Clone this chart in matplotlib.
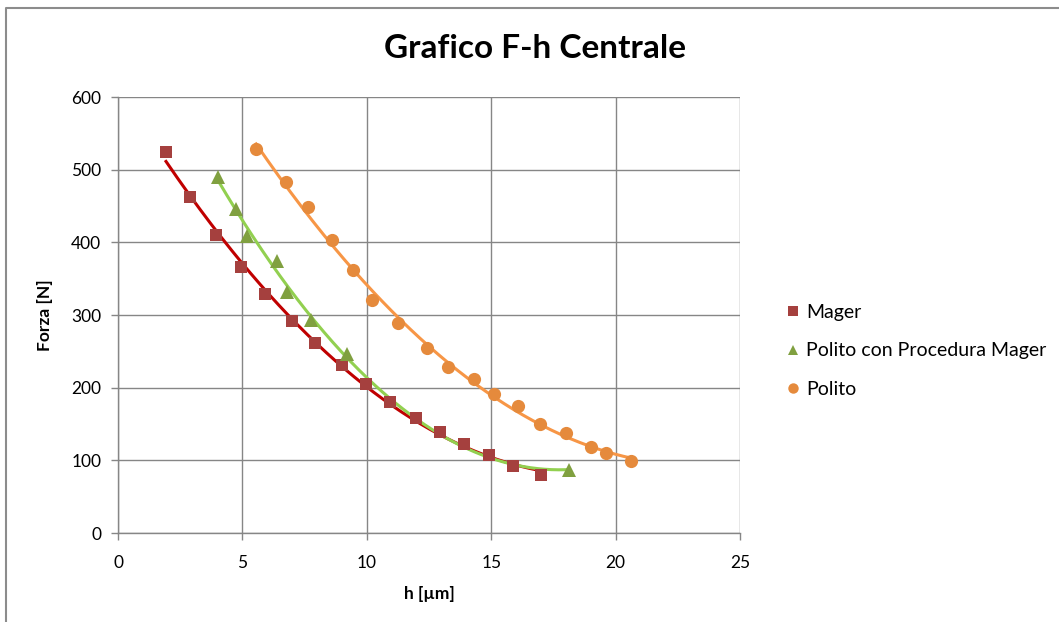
import numpy as np
import matplotlib
matplotlib.use("Agg")
import matplotlib.pyplot as plt
from matplotlib.lines import Line2D

plt.rcParams['font.family'] = ['Lato', 'DejaVu Sans']

# Data
mager_h = [1.93, 2.89, 3.94, 4.94, 5.91, 6.99, 7.92, 9.0, 9.97, 10.93, 11.98, 12.94, 13.9, 14.91, 15.88, 17.0]
mager_F = [525, 462, 410, 366, 329, 292, 261, 231, 205, 180, 158, 139, 122, 107, 92, 80]

pcm_h = [4.02, 4.74, 5.18, 6.39, 6.79, 7.76, 9.2, 18.13]
pcm_F = [490, 446, 409, 374, 332, 293, 246, 87]

polito_h = [5.55, 6.75, 7.64, 8.6, 9.45, 10.2, 11.25, 12.42, 13.26, 14.3, 15.1, 16.08, 16.96, 18.0, 19.0, 19.6, 20.6]
polito_F = [528, 483, 449, 403, 362, 321, 289, 255, 228, 212, 191, 175, 150, 138, 118, 110, 99]

labels = ["Mager", "Polito con Procedura Mager", "Polito"]
title = "Grafico F-h Centrale"
xlabel = "h [µm]"
ylabel = "Forza [N]"

W, H = 1059, 622
fig = plt.figure(figsize=(W / 100, H / 100), dpi=100)
ax = fig.add_axes([118 / W, 1 - 533 / H, (740 - 118) / W, (533 - 97) / H])

grid_c = "#868686"
series = [
    (mager_h, mager_F, "s", "#A5403E", "#C00000", 8.5),
    (pcm_h, pcm_F, "^", "#80A040", "#92D050", 9.5),
    (polito_h, polito_F, "o", "#E58A3C", "#F79646", 9.5),
]
handles = []
for (hx, fy, mk, mc, lc, ms), lab in zip(series, labels):
    hx = np.array(hx); fy = np.array(fy)
    coef = np.polyfit(hx, fy, 2)
    xs = np.linspace(hx.min(), hx.max(), 200)
    ax.plot(xs, np.polyval(coef, xs), color=lc, lw=2.2, zorder=3)
    ax.plot(hx, fy, linestyle="none", marker=mk, color=mc, markersize=ms,
            markeredgewidth=0, zorder=4)
    handles.append(Line2D([], [], linestyle="none", marker=mk, color=mc,
                          markersize=7.5, markeredgewidth=0, label=lab))

ax.set_xlim(0, 25)
ax.set_ylim(0, 600)
ax.set_xticks(range(0, 26, 5))
ax.set_yticks(range(0, 601, 100))
ax.grid(True, color=grid_c, lw=1.0)
ax.set_axisbelow(True)
for s in ["top", "right"]:
    ax.spines[s].set_visible(False)
for s in ["left", "bottom"]:
    ax.spines[s].set_color(grid_c)
    ax.spines[s].set_linewidth(1.0)
ax.tick_params(colors=grid_c, labelcolor="black", length=5, width=1.0,
               labelsize=12.5, direction="out")
ax.tick_params(axis="x", pad=11)
ax.tick_params(axis="y", pad=7)

ax.set_xlabel(xlabel, fontsize=12.5, fontweight="bold", labelpad=11)
ax.set_ylabel(ylabel, fontsize=12.5, fontweight="bold", labelpad=13)

fig.text(535 / W, 1 - 48 / H, title, fontsize=24, fontweight="bold",
         ha="center", va="center")

ax.legend(handles=handles, loc="center left", bbox_to_anchor=(775 / W, 1 - 351 / H),
          bbox_transform=fig.transFigure, frameon=False, fontsize=14,
          handlelength=0.8, handletextpad=0.3, labelspacing=1.12, borderpad=0)

# outer chart border (cropped)
fig.add_artist(Line2D([6 / W, 6 / W, 1.01], [-0.01, 1 - 8 / H, 1 - 8 / H],
                      transform=fig.transFigure, color="#8C8C8C", lw=1.5))

fig.savefig("out.png", dpi=100)
